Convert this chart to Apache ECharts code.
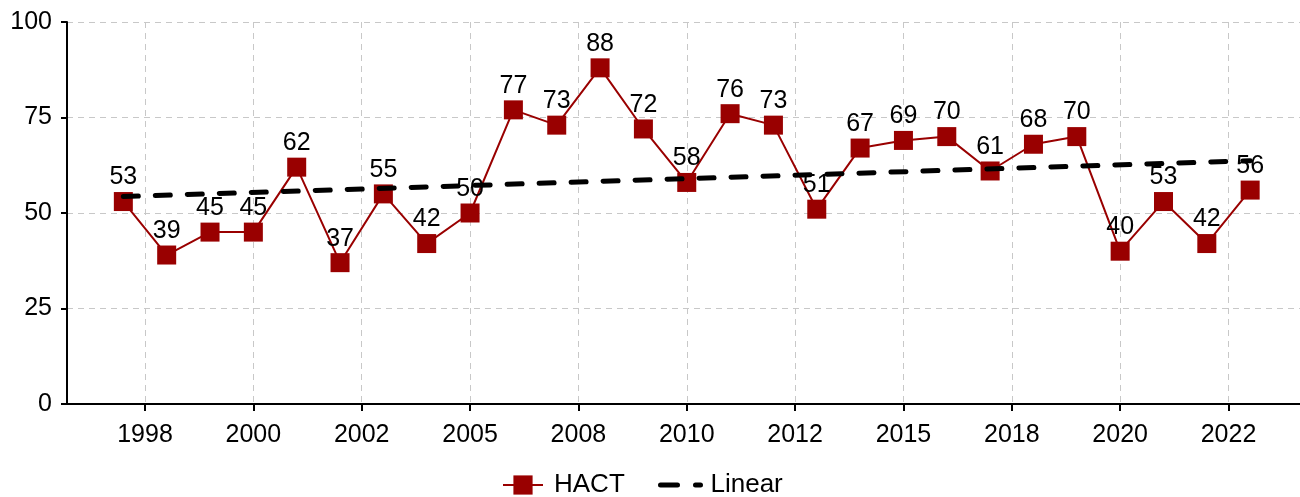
<!DOCTYPE html>
<html>
<head>
<meta charset="utf-8">
<script src="https://cdn.jsdelivr.net/npm/echarts@6/dist/echarts.min.js"></script>
<style>
  html, body { margin: 0; padding: 0; background: #fff; }
  #main { width: 1300px; height: 497px; }
</style>
</head>
<body>
<div id="main"></div>
<script>
// data
var years = [1997, 1998, 1999, 2000, 2001, 2002, 2003, 2004, 2005, 2006, 2007, 2008, 2009,
  2010, 2011, 2012, 2013, 2014, 2015, 2016, 2017, 2018, 2019, 2020, 2021, 2022, 2023];
var hact = [53, 39, 45, 45, 62, 37, 55, 42, 50, 77, 73, 88, 72,
  58, 76, 73, 51, 67, 69, 70, 61, 68, 70, 40, 53, 42, 56];
var trendYears = [1997, 2023];
var trendValues = [54.3, 63.7];
var tickPos = [1997.5, 2000, 2002.5, 2005, 2007.5, 2010, 2012.5, 2015, 2017.5, 2020, 2022.5];
var tickLabels = ['1998', '2000', '2002', '2005', '2008', '2010', '2012', '2015', '2018', '2020', '2022'];

var chart = echarts.init(document.getElementById('main'));
var font = 'Liberation Sans, Arial, sans-serif';
var gridLine = { show: true, lineStyle: { color: '#c8c8c8', type: [6, 5], width: 1 } };

var option = {
  animation: false,
  textStyle: { fontFamily: font },
  grid: { left: 67, right: 0, top: 22, bottom: 93 },
  legend: [
    {
      left: 497,
      bottom: -6,
      itemWidth: 40,
      itemHeight: 24,
      textStyle: { fontSize: 26, color: '#000', fontFamily: font, padding: [0, 0, 0, 6] },
      data: ['HACT']
    },
    {
      left: 653,
      bottom: -6,
      itemWidth: 40,
      itemHeight: 24,
      textStyle: { fontSize: 26, color: '#000', fontFamily: font, padding: [0, 0, 0, 5] },
      data: [{
        name: 'Linear',
        itemStyle: { opacity: 0, color: 'rgba(0,0,0,0)' },
        lineStyle: { color: '#000', width: 5, type: [17, 18, 5, 50], cap: 'round' }
      }]
    }
  ],
  xAxis: {
    type: 'value',
    min: 1995.7,
    max: 2024.15,
    axisLine: { onZero: false, lineStyle: { color: '#000', width: 2 } },
    axisTick: { show: true, length: 7, customValues: tickPos, lineStyle: { color: '#000', width: 2 } },
    axisLabel: {
      customValues: tickPos,
      margin: 19,
      fontSize: 25,
      color: '#000',
      fontFamily: font,
      formatter: function (v) {
        var i = tickPos.indexOf(v);
        return i >= 0 ? tickLabels[i] : '';
      }
    },
    splitLine: gridLine
  },
  yAxis: {
    type: 'value',
    min: 0,
    max: 100,
    interval: 25,
    axisLine: { show: true, lineStyle: { color: '#000', width: 2 } },
    axisTick: { show: true, length: 6, lineStyle: { color: '#000', width: 2 } },
    axisLabel: { fontSize: 25, color: '#000', margin: 15, fontFamily: font },
    splitLine: gridLine
  },
  series: [
    {
      name: 'HACT',
      type: 'line',
      data: years.map(function (y, i) { return [y, hact[i]]; }),
      symbol: 'rect',
      symbolSize: 19,
      z: 2,
      itemStyle: { color: '#990000' },
      lineStyle: { color: '#990000', width: 2 },
      label: {
        show: true,
        position: 'top',
        distance: 2,
        fontSize: 25,
        color: '#000',
        fontFamily: font,
        formatter: function (p) { return p.value[1]; }
      }
    },
    {
      name: 'Linear',
      type: 'line',
      data: trendYears.map(function (y, i) { return [y, trendValues[i]]; }),
      showSymbol: false,
      symbol: 'none',
      z: 3,
      itemStyle: { color: '#000' },
      lineStyle: { color: '#000', width: 5, type: [15, 17], cap: 'round' }
    }
  ]
};

chart.setOption(option);
</script>
</body>
</html>
